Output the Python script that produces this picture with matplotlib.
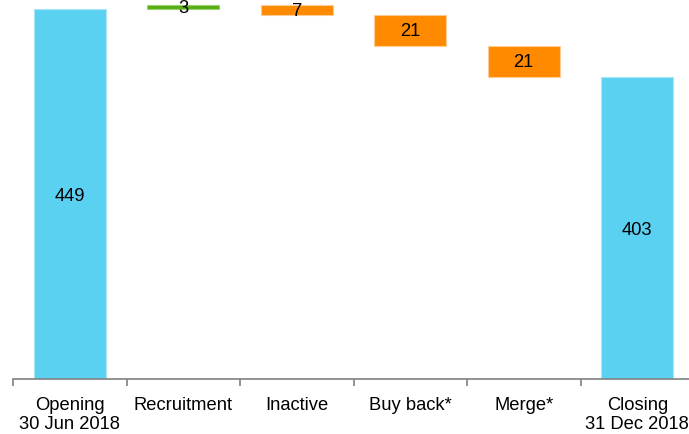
import matplotlib
matplotlib.use("Agg")
import matplotlib.pyplot as plt
import numpy as np

plt.rcParams['font.family'] = ['Liberation Sans', 'DejaVu Sans']

# headcount bridge, opening to closing
steps = ['Opening\n30 Jun 2018', 'Recruitment', 'Inactive', 'Buy back*', 'Merge*',
         'Closing\n31 Dec 2018']
opening = 449
changes = [3, -7, -21, -21]
closing = opening + sum(changes)

blue = '#5BD1F1'
orange = '#FF8A00'
green = '#56AE12'

fig = plt.figure(figsize=(6.89, 4.35), dpi=100)
ax = fig.add_axes([13 / 689, 1 - 380 / 435, 681 / 689, 380 / 435])

ylo, yhi = 199, 456
x = np.arange(len(steps))
w = 0.635
fs = 13.2

# totals
ax.bar(x[0], opening - ylo, bottom=ylo, width=w, color=blue, edgecolor='#A8E6F7', linewidth=0.8)
ax.bar(x[-1], closing - ylo, bottom=ylo, width=w, color=blue, edgecolor='#A8E6F7', linewidth=0.8)
ax.text(x[0], (opening + ylo) / 2 - 1, str(opening), ha='center', va='center', fontsize=fs)
ax.text(x[-1], (closing + ylo) / 2 - 1, str(closing), ha='center', va='center', fontsize=fs)

# floating movements
level = opening
for i, d in enumerate(changes, start=1):
    lo = min(level, level + d)
    col = green if d > 0 else orange
    edge = '#9BD06F' if d > 0 else '#FFCB94'
    ax.bar(x[i], abs(d), bottom=lo, width=w, color=col, edgecolor=edge, linewidth=0.8)
    ax.text(x[i], lo + abs(d) / 2, str(abs(d)), ha='center', va='center', fontsize=fs)
    level += d

ax.set_xlim(-0.5, len(steps) - 0.5)
ax.set_ylim(ylo, yhi)

for s in ['top', 'right', 'left']:
    ax.spines[s].set_visible(False)
ax.spines['bottom'].set_color('#808080')
ax.spines['bottom'].set_linewidth(1.2)
ax.set_yticks([])

ax.set_xticks(x)
ax.set_xticklabels(steps, fontsize=fs, linespacing=1.2)
ax.tick_params(axis='x', which='major', length=0, pad=12)
ax.set_xticks(np.arange(-0.5, len(steps)), minor=True)
ax.tick_params(axis='x', which='minor', length=5, width=1.2, color='#808080', direction='out')

fig.savefig('out.png', dpi=100)
